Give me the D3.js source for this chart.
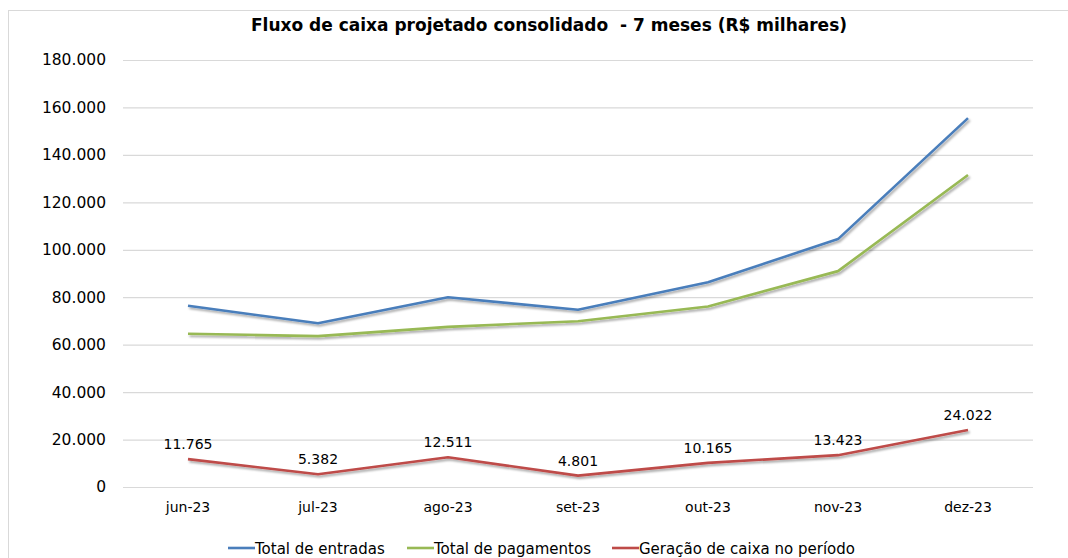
<!DOCTYPE html>
<html>
<head>
<meta charset="utf-8">
<script src="https://cdn.jsdelivr.net/npm/d3@7"></script>
<style>
  body { margin: 0; background: #fff; }
  svg { display: block; font-family: "DejaVu Sans", Verdana, sans-serif; }
</style>
</head>
<body>
<div id="chart"></div>
<script>
const months = ["jun-23", "jul-23", "ago-23", "set-23", "out-23", "nov-23", "dez-23"];
const entradas = [76400, 69000, 80000, 74700, 86300, 104500, 155500];
const pagamentos = [64600, 63600, 67500, 69900, 76100, 91000, 131500];
const geracao = [11765, 5382, 12511, 4801, 10165, 13423, 24022];
const yTicks = [0, 20000, 40000, 60000, 80000, 100000, 120000, 140000, 160000, 180000];

const size = { width: 1068, height: 558 };
const margin = { left: 123, right: 35, top: 60, bottom: 71 };

const fmt = d3.formatLocale({ decimal: ",", thousands: ".", grouping: [3], currency: ["R$", ""] }).format(",d");

const svg = d3.select("#chart")
  .append("svg")
  .attr("width", size.width)
  .attr("height", size.height);

// soft shadow under the lines, like the spreadsheet chart
const filter = svg.append("defs").append("filter")
  .attr("id", "shadow")
  .attr("x", "-5%").attr("y", "-20%")
  .attr("width", "110%").attr("height", "140%");
filter.append("feDropShadow")
  .attr("dx", 1.5).attr("dy", 2)
  .attr("stdDeviation", 1.2)
  .attr("flood-color", "#000")
  .attr("flood-opacity", 0.35);

// outer border
svg.append("rect")
  .attr("x", 8.5).attr("y", 10.5)
  .attr("width", size.width + 10).attr("height", size.height + 10)
  .attr("fill", "none")
  .attr("stroke", "#d9d9d9");

svg.append("text")
  .attr("x", 549).attr("y", 31)
  .attr("text-anchor", "middle")
  .style("font-size", "17px")
  .style("font-weight", "bold")
  .attr("fill", "#000")
  .attr("xml:space", "preserve")
  .text("Fluxo de caixa projetado consolidado  - 7 meses (R$ milhares)");

const x = d3.scaleBand()
  .domain(months)
  .range([margin.left, size.width - margin.right]);

const y = d3.scaleLinear()
  .domain([0, 180000])
  .range([size.height - margin.bottom, margin.top]);

// gridlines + y labels
const yAxis = svg.append("g")
  .attr("transform", `translate(${margin.left},0)`)
  .call(d3.axisLeft(y).tickValues(yTicks).tickFormat(fmt)
    .tickSize(-(size.width - margin.right - margin.left)).tickPadding(17));
yAxis.select(".domain").remove();
yAxis.selectAll(".tick line").attr("stroke", "#d9d9d9").attr("stroke-width", 1.2);
yAxis.selectAll(".tick text")
  .attr("fill", "#000")
  .style("font-size", "15.5px")
  .style("font-family", "DejaVu Sans, Verdana, sans-serif");

// x labels
const xAxis = svg.append("g")
  .attr("transform", `translate(0,${size.height - margin.bottom})`)
  .call(d3.axisBottom(x).tickSize(0).tickPadding(15));
xAxis.select(".domain").remove();
xAxis.selectAll(".tick text")
  .attr("fill", "#000")
  .style("font-size", "14px")
  .style("font-family", "DejaVu Sans, Verdana, sans-serif");

const series = [
  { name: "Total de entradas", values: entradas, color: "#4a7ebb" },
  { name: "Total de pagamentos", values: pagamentos, color: "#98b954" },
  { name: "Geração de caixa no período", values: geracao, color: "#be4b48" },
];

const line = d3.line()
  .x((d, i) => x(months[i]) + x.bandwidth() / 2)
  .y((d) => y(d));

svg.selectAll(".serie")
  .data(series)
  .join("path")
  .attr("class", "serie")
  .attr("fill", "none")
  .attr("stroke", (d) => d.color)
  .attr("stroke-width", 2.6)
  .attr("stroke-linejoin", "round")
  .attr("filter", "url(#shadow)")
  .attr("d", (d) => line(d.values));

// data labels on the red line
svg.selectAll(".lbl")
  .data(geracao)
  .join("text")
  .attr("class", "lbl")
  .attr("x", (d, i) => x(months[i]) + x.bandwidth() / 2)
  .attr("y", (d) => y(d) - 10)
  .attr("text-anchor", "middle")
  .style("font-size", "14px")
  .attr("fill", "#000")
  .text(fmt);

// legend
const legendX = [228, 407, 612];
const legend = svg.selectAll(".leg")
  .data(series)
  .join("g")
  .attr("class", "leg")
  .attr("transform", (d, i) => `translate(${legendX[i]},548)`);
legend.append("line")
  .attr("x1", 0).attr("x2", 27)
  .attr("stroke", (d) => d.color)
  .attr("stroke-width", 2.6);
legend.append("text")
  .attr("x", 27).attr("y", 5.5)
  .style("font-size", "15px")
  .attr("fill", "#000")
  .text((d) => d.name);
</script>
</body>
</html>
